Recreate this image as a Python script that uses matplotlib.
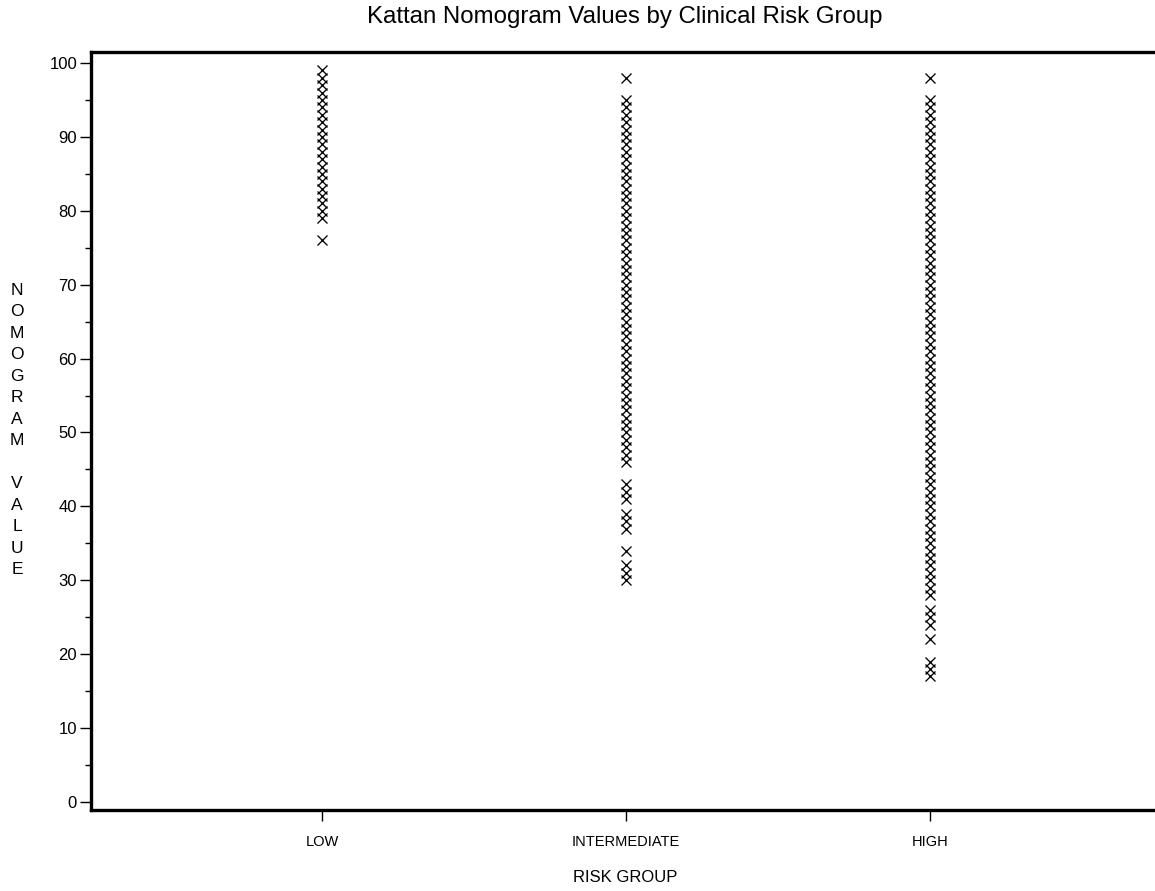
import matplotlib
matplotlib.use("Agg")
import matplotlib.pyplot as plt
from matplotlib.ticker import MultipleLocator

plt.rcParams['font.family'] = ['Liberation Sans', 'DejaVu Sans']

categories = ["LOW", "INTERMEDIATE", "HIGH"]
low_values = [76] + list(range(79, 100))
intermediate_values = [30, 31, 32, 34, 37, 38, 39, 41, 42, 43] + list(range(46, 96)) + [98]
high_values = [17, 18, 19, 22, 24, 25, 26] + list(range(28, 96)) + [98]
groups = [low_values, intermediate_values, high_values]

title = "Kattan Nomogram Values by Clinical Risk Group"
xlabel = "RISK GROUP"
ylabel = "NOMOGRAM VALUE"

W, H = 1155, 891
fig = plt.figure(figsize=(W / 100, H / 100), dpi=100)
ax = fig.add_axes([91 / W, 1 - 810 / H, 1 - 91 / W, (810 - 52) / H])

for i, vals in enumerate(groups):
    ax.plot([i + 1] * len(vals), vals, linestyle='none', marker='x',
            markersize=7.2, markeredgewidth=0.95, color='black')

ax.set_xlim(0.24, 3.74)
ax.set_ylim(-1.1, 101.5)
ax.set_xticks([1, 2, 3])
ax.set_xticklabels(categories, fontsize=10.5)
ax.yaxis.set_major_locator(MultipleLocator(10))
ax.yaxis.set_minor_locator(MultipleLocator(5))
ax.tick_params(axis='y', which='major', length=8, width=1, labelsize=12, pad=2)
ax.tick_params(axis='y', which='minor', length=4, width=1)
ax.tick_params(axis='x', which='major', length=8, width=1, pad=10)

for s in ['left', 'bottom', 'top']:
    ax.spines[s].set_linewidth(2.4)
ax.spines['right'].set_visible(False)

fig.text(625 / W, 1 - 17 / H, title, ha='center', va='center', fontsize=17.3)
fig.text(625 / W, 1 - 877 / H, xlabel, ha='center', va='center', fontsize=12)

n = len(ylabel)
y0, y1 = 290, 570
for k, ch in enumerate(ylabel):
    yy = y0 + (y1 - y0) * k / (n - 1)
    fig.text(17 / W, 1 - yy / H, ch, ha='center', va='center', fontsize=12.5)

fig.savefig("out.png", dpi=100)
